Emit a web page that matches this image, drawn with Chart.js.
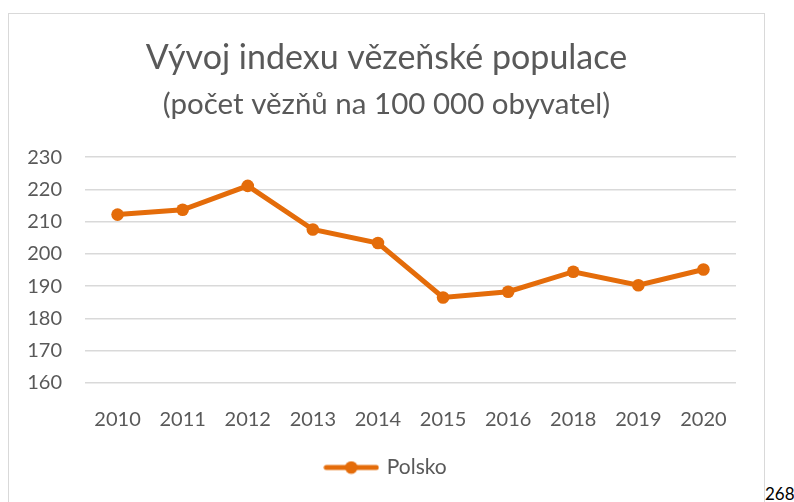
<!DOCTYPE html>
<html>
<head>
<meta charset="utf-8">
<script src="https://cdn.jsdelivr.net/npm/chart.js@4"></script>
<style>
  body { margin: 0; background: #fff; }
  #box { position: absolute; left: 8px; top: 13px; width: 757px; height: 496px;
         border: 1px solid #d9d9d9; box-sizing: border-box; }
  #page { position: absolute; left: 765px; top: 483px; font: 17px Lato, sans-serif; color: #000; }
</style>
</head>
<body>
<div id="box"><canvas id="graf" width="755" height="494"></canvas></div>
<div id="page">268</div>
<script>
// Data
var roky = ['2010', '2011', '2012', '2013', '2014', '2015', '2016', '2018', '2019', '2020'];
var polsko = [212.2, 213.7, 221.1, 207.6, 203.4, 186.5, 188.3, 194.5, 190.3, 195.2];
var yMin = 160, yMax = 230, yKrok = 10;

var oranzova = 'rgb(228, 108, 10)';
var seda = '#595959';

// ikona legendy: cara s kolečkem
var ikona = document.createElement('canvas');
ikona.width = 56; ikona.height = 14;
var ic = ikona.getContext('2d');
ic.strokeStyle = oranzova; ic.lineWidth = 5; ic.lineCap = 'round';
ic.beginPath(); ic.moveTo(3, 7); ic.lineTo(53, 7); ic.stroke();
ic.fillStyle = oranzova;
ic.beginPath(); ic.arc(28, 7, 6.3, 0, Math.PI * 2); ic.fill();

var ctx = document.getElementById('graf').getContext('2d');
var graf = new Chart(ctx, {
    type: 'line',
    data: {
        labels: roky,
        datasets: [{
            label: 'Polsko',
            data: polsko,
            borderColor: oranzova,
            backgroundColor: oranzova,
            borderWidth: 5,
            pointRadius: 6.3,
            pointBorderWidth: 0,
            pointStyle: 'circle',
            tension: 0
        }]
    },
    options: {
        responsive: false,
        animation: false,
        layout: { padding: { left: 0, right: 0, top: 0, bottom: 20 } },
        plugins: {
            title: {
                display: true,
                text: 'Vývoj indexu vězeňské populace',
                color: seda,
                font: { family: 'Lato', size: 34, weight: 'normal', lineHeight: 1.2 },
                padding: { top: 24, bottom: 0 }
            },
            subtitle: {
                display: true,
                text: '(počet vězňů na 100 000 obyvatel)',
                color: seda,
                font: { family: 'Lato', size: 29.5, weight: 'normal', lineHeight: 1.2 },
                padding: { top: 8, bottom: 35 }
            },
            legend: {
                position: 'bottom',
                labels: {
                    usePointStyle: true,
                    pointStyleWidth: 50,
                    padding: 10,
                    color: seda,
                    font: { family: 'Lato', size: 21 },
                    generateLabels: function (chart) {
                        return chart.data.datasets.map(function (ds, i) {
                            return { text: ds.label, pointStyle: ikona, fontColor: seda, datasetIndex: i, lineWidth: 0 };
                        });
                    }
                }
            },
            tooltip: { enabled: false }
        },
        scales: {
            x: {
                offset: true,
                grid: { display: false },
                border: { display: false },
                ticks: { color: seda, font: { family: 'Lato', size: 20 }, padding: 17, maxRotation: 0 },
                afterFit: function (s) { s.height = 64; }
            },
            y: {
                min: yMin,
                max: yMax,
                ticks: { stepSize: yKrok, color: seda, font: { family: 'Lato', size: 20 }, padding: 23 },
                grid: { color: '#d9d9d9', lineWidth: 1.5, drawTicks: false },
                border: { display: false },
                afterFit: function (s) { s.width = 76; }
            },
            // prázdná pravá osa jen jako okraj vpravo
            y2: {
                position: 'right',
                min: yMin,
                max: yMax,
                grid: { display: false },
                border: { display: false },
                ticks: { display: false },
                afterFit: function (s) { s.width = 28; }
            }
        }
    }
});
</script>
</body>
</html>
